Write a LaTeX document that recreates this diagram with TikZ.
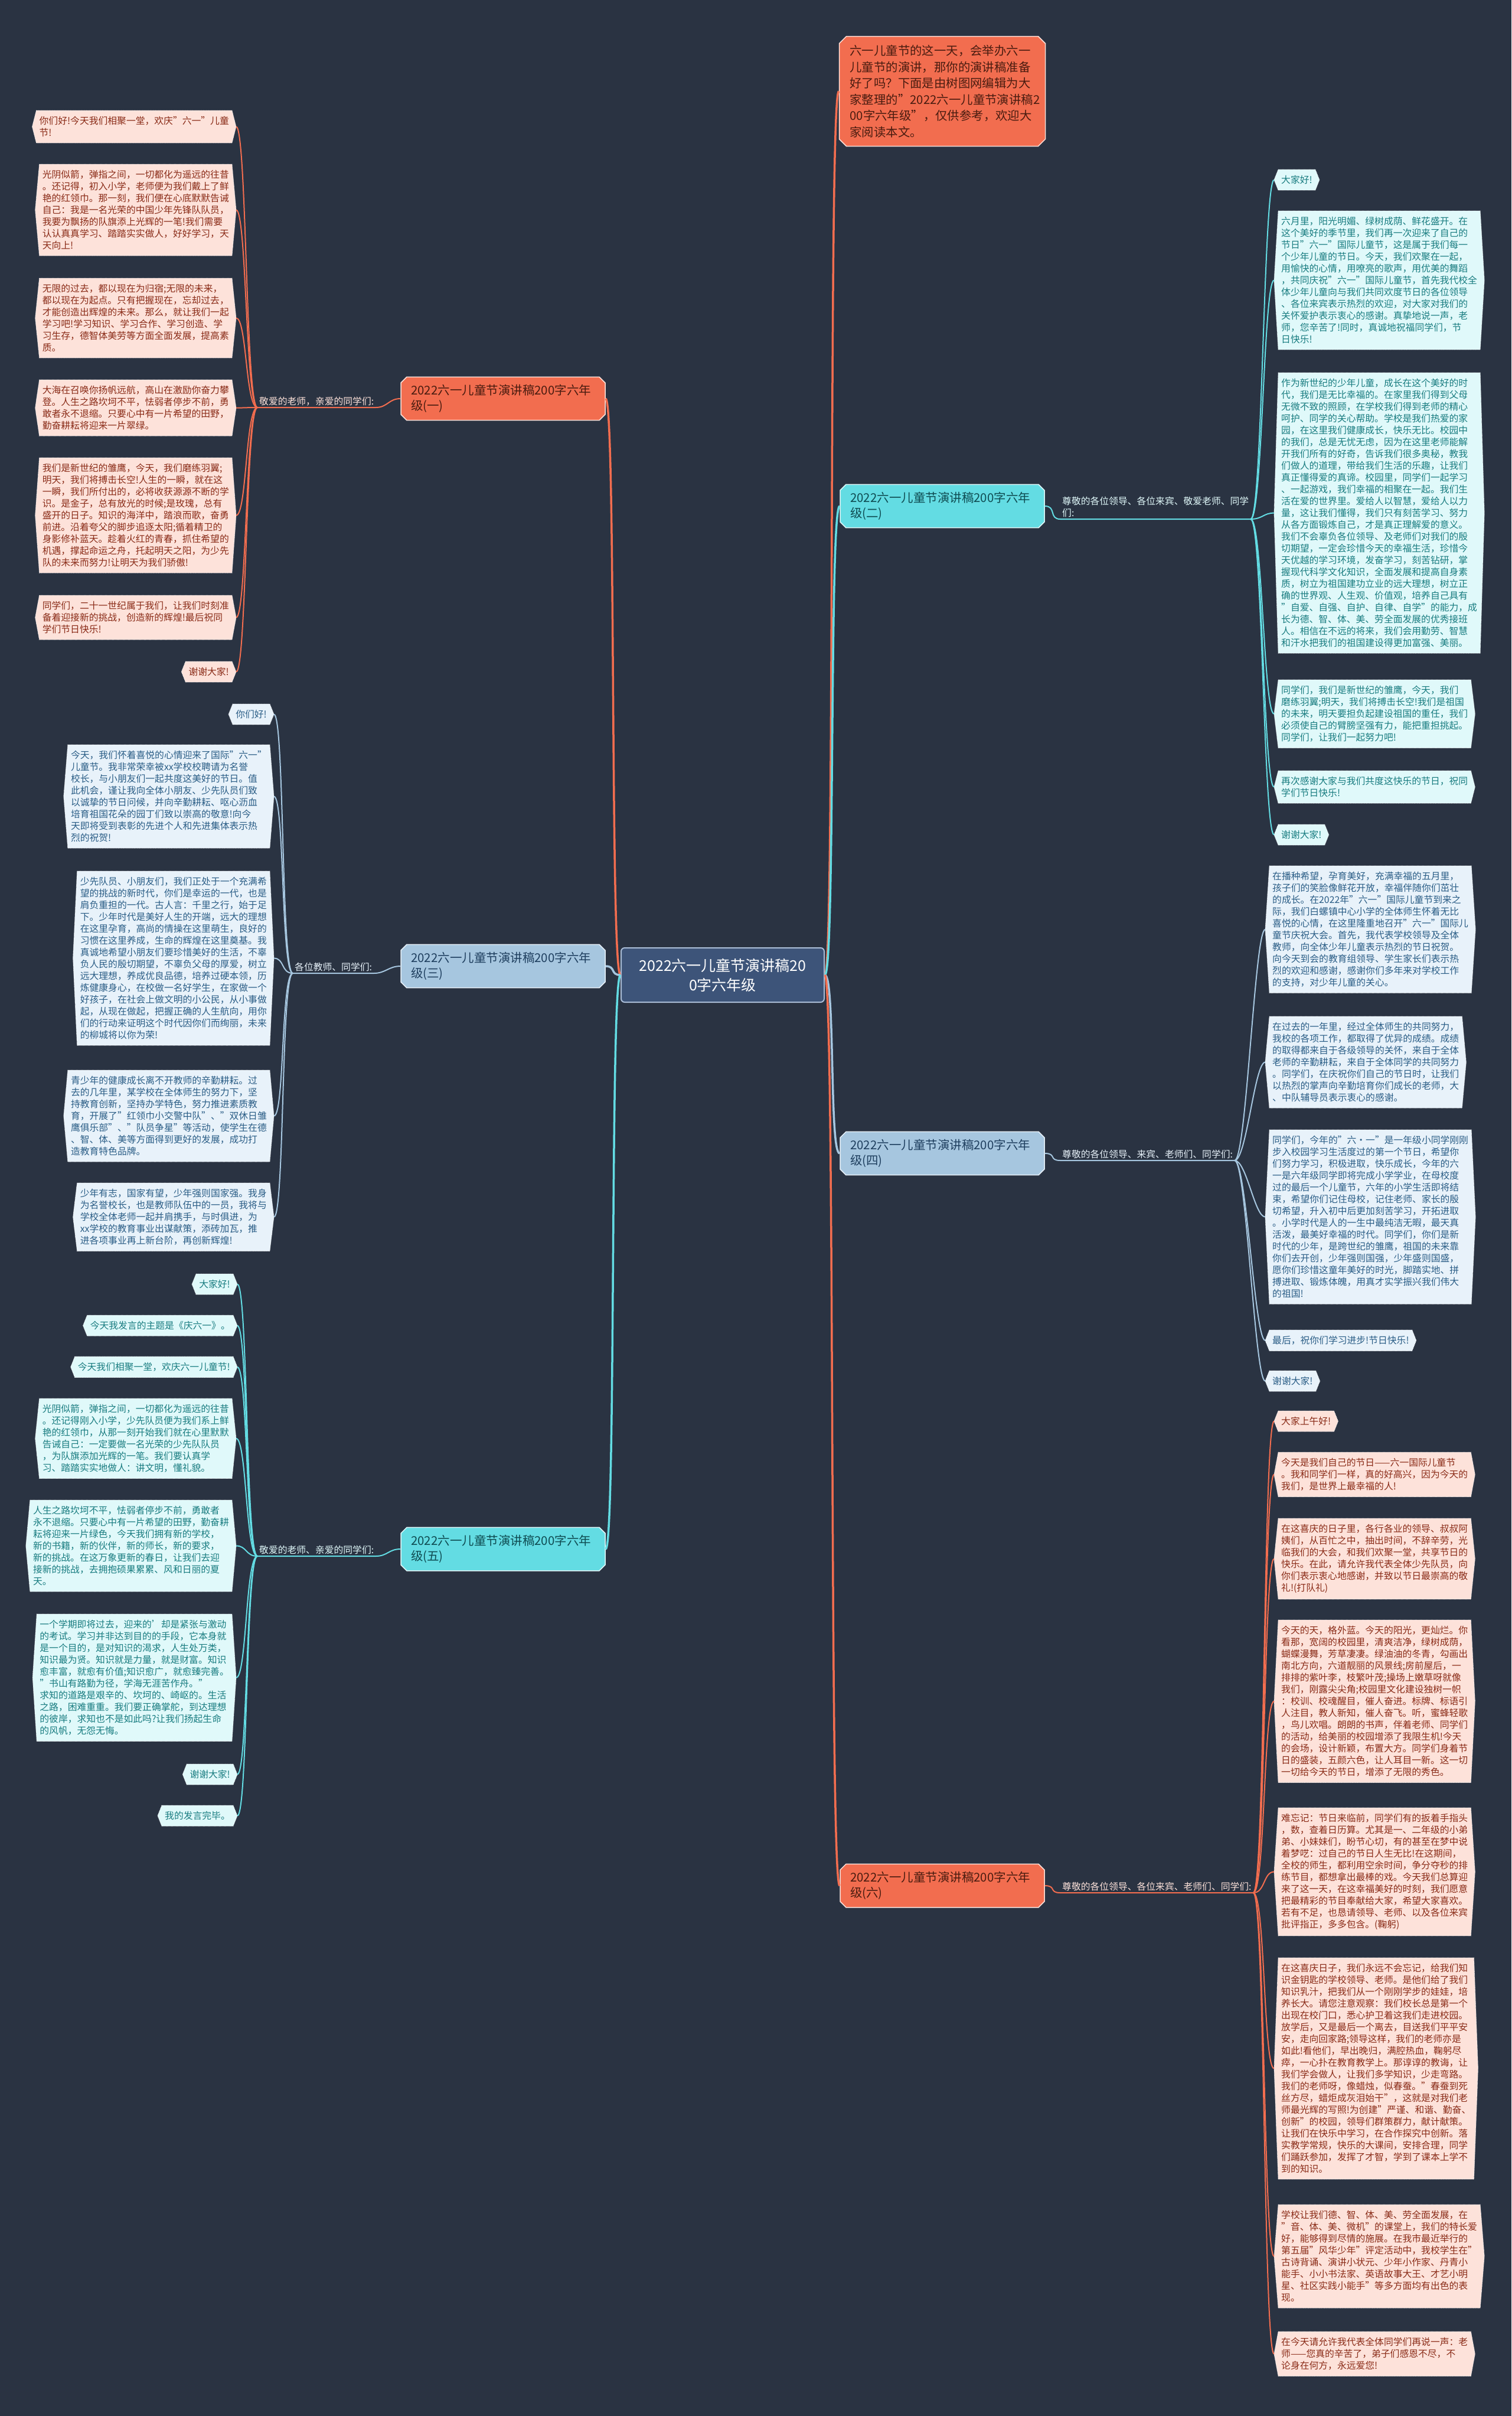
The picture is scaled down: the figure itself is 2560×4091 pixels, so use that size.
\documentclass[tikz,border=0pt]{standalone}
\usepackage{fontspec}
\setmainfont{Noto Sans CJK SC}
\usetikzlibrary{backgrounds,shapes.misc}
\definecolor{bgc}{HTML}{2A3342}
\definecolor{orA}{HTML}{F26D4F}
\definecolor{orL}{HTML}{FDE2DA}
\definecolor{orT}{HTML}{8A2B17}
\definecolor{orD}{HTML}{4A1C10}
\definecolor{blA}{HTML}{A6C6DF}
\definecolor{blL}{HTML}{E8F2FA}
\definecolor{blT}{HTML}{2A5D86}
\definecolor{blD}{HTML}{1F3F5F}
\definecolor{cyA}{HTML}{63DCE3}
\definecolor{cyL}{HTML}{E0F9FA}
\definecolor{cyT}{HTML}{187C80}
\definecolor{cyD}{HTML}{0F4C52}
\definecolor{ctrc}{HTML}{3D5479}
\definecolor{ctrl}{HTML}{A9BCD6}
\newcommand\leaffnt{\fontsize{15.8pt}{20pt}\selectfont}
\newcommand\brfnt{\fontsize{20.5pt}{26pt}\selectfont}
\newcommand\ctrfnt{\fontsize{25pt}{33pt}\selectfont}
\newcommand\introfnt{\fontsize{20.4pt}{27.5pt}\selectfont}
\tikzset{
  leaf/.style={inner xsep=5pt, inner ysep=10pt, align=left, font=\leaffnt},
  lo/.style={leaf, text=orT, anchor=north west},
  lb/.style={leaf, text=blT},
  lc/.style={leaf, text=cyT},
  branch/.style={chamfered rectangle, chamfered rectangle xsep=5pt, chamfered rectangle ysep=5pt,
    text width=312pt, align=left, inner xsep=12pt, inner ysep=8pt, minimum height=70pt,
    font=\brfnt, line width=1.5pt},
  bo/.style={branch, fill=orA, draw=orL, text=orD},
  bb/.style={branch, fill=blA, draw=blL, text=blD},
  bc/.style={branch, fill=cyA, draw=cyL, text=cyD},
  lab/.style={font=\leaffnt, inner xsep=3pt, inner ysep=3pt, align=left},
  mainc/.style={line width=3.5pt},
  con/.style={line width=2pt},
  hexo/.style={fill=orL, draw=white, densely dotted, line width=0.8pt},
  hexb/.style={fill=blL, draw=white, densely dotted, line width=0.8pt},
  hexc/.style={fill=cyL, draw=white, densely dotted, line width=0.8pt}
}
\begin{document}
\begin{tikzpicture}[x=1pt,y=-1pt]
\useasboundingbox (0,0) rectangle (2560,4091);

% centre
\node[rounded corners=6pt, fill=ctrc, draw=ctrl, line width=2pt, minimum width=344pt, minimum height=92pt,
  align=center, font=\ctrfnt, text=white] (ctr) at (1224,1651) {2022六一儿童节演讲稿20\\0字六年级};

% intro
\node[chamfered rectangle, chamfered rectangle xsep=6pt, chamfered rectangle ysep=6pt,
  fill=orA, draw=orL, line width=1.5pt, text width=313pt, inner xsep=12pt, inner ysep=8pt,
  minimum height=186pt, align=left, font=\introfnt, text=orD, anchor=north west] (intro) at (1427,67)
  {六一儿童节的这一天，会举办六一\\儿童节的演讲，那你的演讲稿准备\\好了吗？下面是由树图网编辑为大\\家整理的"2022六一儿童节演讲稿2\\00字六年级"，仅供参考，欢迎大\\家阅读本文。};

% branches
\node[bo] (b1) at (852,675) {2022六一儿童节演讲稿200字六年\\级(一)};
\node[bb] (b3) at (852,1636) {2022六一儿童节演讲稿200字六年\\级(三)};
\node[bc] (b5) at (852,2623) {2022六一儿童节演讲稿200字六年\\级(五)};
\node[bc] (b2) at (1596,857) {2022六一儿童节演讲稿200字六年\\级(二)};
\node[bb] (b4) at (1596,1953) {2022六一儿童节演讲稿200字六年\\级(四)};
\node[bo] (b6) at (1596,3193) {2022六一儿童节演讲稿200字六年\\级(六)};

% labels
\node[lab, text=orL, anchor=south west] (l1) at (436,690) {敬爱的老师，亲爱的同学们:};
\node[lab, text=blL, anchor=south west] (l3) at (496,1648) {各位教师、同学们:};
\node[lab, text=cyL, anchor=south west] (l5) at (436,2635) {敬爱的老师、亲爱的同学们:};
\node[lab, text=cyL, anchor=south west] (l2) at (1796,879) {尊敬的各位领导、各位来宾、敬爱老师、同学\\们:};
\node[lab, text=blL, anchor=south west] (l4) at (1796,1965) {尊敬的各位领导、来宾、老师们、同学们:};
\node[lab, text=orL, anchor=south west] (l6) at (1796,3205) {尊敬的各位领导、各位来宾、老师们、同学们:};

% (一) leaves
\node[leaf, text=orT, anchor=north east] (a1) at (393,187) {你们好!今天我们相聚一堂，欢庆"六一"儿童\\节!};
\node[leaf, text=orT, anchor=north east] (a2) at (393,278) {光阴似箭，弹指之间，一切都化为遥远的往昔\\。还记得，初入小学，老师便为我们戴上了鲜\\艳的红领巾。那一刻，我们便在心底默默告诫\\自己：我是一名光荣的中国少年先锋队队员，\\我要为飘扬的队旗添上光辉的一笔!我们需要\\认认真真学习、踏踏实实做人，好好学习，天\\天向上!};
\node[leaf, text=orT, anchor=north east] (a3) at (393,471) {无限的过去，都以现在为归宿;无限的未来，\\都以现在为起点。只有把握现在，忘却过去，\\才能创造出辉煌的未来。那么，就让我们一起\\学习吧!学习知识、学习合作、学习创造、学\\习生存，德智体美劳等方面全面发展，提高素\\质。};
\node[leaf, text=orT, anchor=north east] (a4) at (393,643) {大海在召唤你扬帆远航，高山在激励你奋力攀\\登。人生之路坎坷不平，怯弱者停步不前，勇\\敢者永不退缩。只要心中有一片希望的田野，\\勤奋耕耘将迎来一片翠绿。};
\node[leaf, text=orT, anchor=north east] (a5) at (393,775) {我们是新世纪的雏鹰，今天，我们磨练羽翼;\\明天，我们将搏击长空!人生的一瞬，就在这\\一瞬，我们所付出的，必将收获源源不断的学\\识。是金子，总有放光的时候;是玫瑰，总有\\盛开的日子。知识的海洋中，踏浪而歌，奋勇\\前进。沿着夸父的脚步追逐太阳;循着精卫的\\身影修补蓝天。趁着火红的青春，抓住希望的\\机遇，撑起命运之舟，托起明天之阳，为少先\\队的未来而努力!让明天为我们骄傲!};
\node[leaf, text=orT, anchor=north east] (a6) at (393,1008) {同学们，二十一世纪属于我们，让我们时刻准\\备着迎接新的挑战，创造新的辉煌!最后祝同\\学们节日快乐!};
\node[leaf, text=orT, anchor=north east] (a7) at (393,1120) {谢谢大家!};

% (三) leaves
\node[lb, anchor=north east] (m1) at (457,1192) {你们好!};
\node[lb, anchor=north east] (m2) at (457,1261) {今天，我们怀着喜悦的心情迎来了国际"六一"\\儿童节。我非常荣幸被xx学校校聘请为名誉\\校长，与小朋友们一起共度这美好的节日。值\\此机会，谨让我向全体小朋友、少先队员们致\\以诚挚的节日问候，并向辛勤耕耘、呕心沥血\\培育祖国花朵的园丁们致以崇高的敬意!向今\\天即将受到表彰的先进个人和先进集体表示热\\烈的祝贺!};
\node[lb, anchor=north east] (m3) at (457,1475) {少先队员、小朋友们，我们正处于一个充满希\\望的挑战的新时代，你们是幸运的一代，也是\\肩负重担的一代。古人言：千里之行，始于足\\下。少年时代是美好人生的开端，远大的理想\\在这里孕育，高尚的情操在这里萌生，良好的\\习惯在这里养成，生命的辉煌在这里奠基。我\\真诚地希望小朋友们要珍惜美好的生活，不辜\\负人民的殷切期望，不辜负父母的厚爱，树立\\远大理想，养成优良品德，培养过硬本领，历\\炼健康身心，在校做一名好学生，在家做一个\\好孩子，在社会上做文明的小公民，从小事做\\起，从现在做起，把握正确的人生航向，用你\\们的行动来证明这个时代因你们而绚丽，未来\\的柳城将以你为荣!};
\node[lb, anchor=north east] (m4) at (457,1812) {青少年的健康成长离不开教师的辛勤耕耘。过\\去的几年里，某学校在全体师生的努力下，坚\\持教育创新，坚持办学特色，努力推进素质教\\育，开展了"红领巾小交警中队"、"双休日雏\\鹰俱乐部"、"队员争星"等活动，使学生在德\\、智、体、美等方面得到更好的发展，成功打\\造教育特色品牌。};
\node[lb, anchor=north east] (m5) at (457,2003) {少年有志，国家有望，少年强则国家强。我身\\为名誉校长，也是教师队伍中的一员，我将与\\学校全体老师一起并肩携手，与时俱进，为\\xx学校的教育事业出谋献策，添砖加瓦，推\\进各项事业再上新台阶，再创新辉煌!};

% (五) leaves
\node[lc, anchor=north east] (n1) at (395,2157) {大家好!};
\node[lc, anchor=north east] (n2) at (395,2227) {今天我发言的主题是《庆六一》。};
\node[lc, anchor=north east] (n3) at (395,2297) {今天我们相聚一堂，欢庆六一儿童节!};
\node[lc, anchor=north east] (n4) at (393,2368) {光阴似箭，弹指之间，一切都化为遥远的往昔\\。还记得刚入小学，少先队员便为我们系上鲜\\艳的红领巾，从那一刻开始我们就在心里默默\\告诫自己：一定要做一名光荣的少先队队员\\，为队旗添加光辉的一笔。我们要认真学\\习、踏踏实实地做人：讲文明，懂礼貌。};
\node[lc, anchor=north east] (n5) at (393,2540) {人生之路坎坷不平，怯弱者停步不前，勇敢者\\永不退缩。只要心中有一片希望的田野，勤奋耕\\耘将迎来一片绿色，今天我们拥有新的学校，\\新的书籍，新的伙伴，新的师长，新的要求，\\新的挑战。在这万象更新的春日，让我们去迎\\接新的挑战，去拥抱硕果累累、风和日丽的夏\\天。};
\node[lc, anchor=north east] (n6) at (393,2733) {一个学期即将过去，迎来的'却是紧张与激动\\的考试。学习并非达到目的的手段，它本身就\\是一个目的，是对知识的渴求，人生处万类，\\知识最为贤。知识就是力量，就是财富。知识\\愈丰富，就愈有价值;知识愈广，就愈臻完善。\\"书山有路勤为径，学海无涯苦作舟。"\\求知的道路是艰辛的、坎坷的、崎岖的。生活\\之路，困难重重。我们要正确掌舵，到达理想\\的彼岸，求知也不是如此吗?让我们扬起生命\\的风帆，无怨无悔。};
\node[lc, anchor=north east] (n7) at (395,2987) {谢谢大家!};
\node[lc, anchor=north east] (n8) at (395,3057) {我的发言完毕。};

% (二) leaves
\node[lc, anchor=north west] (r1) at (2165,287) {大家好!};
\node[lc, anchor=north west] (r2) at (2165,357) {六月里，阳光明媚、绿树成荫、鲜花盛开。在\\这个美好的季节里，我们再一次迎来了自己的\\节日"六一"国际儿童节，这是属于我们每一\\个少年儿童的节日。今天，我们欢聚在一起，\\用愉快的心情，用嘹亮的歌声，用优美的舞蹈\\，共同庆祝"六一"国际儿童节，首先我代校全\\体少年儿童向与我们共同欢度节日的各位领导\\、各位来宾表示热烈的欢迎，对大家对我们的\\关怀爱护表示衷心的感谢。真挚地说一声，老\\师，您辛苦了!同时，真诚地祝福同学们，节\\日快乐!};
\node[lc, anchor=north west] (r3) at (2165,631) {作为新世纪的少年儿童，成长在这个美好的时\\代，我们是无比幸福的。在家里我们得到父母\\无微不致的照顾，在学校我们得到老师的精心\\呵护、同学的关心帮助。学校是我们热爱的家\\园，在这里我们健康成长，快乐无比。校园中\\的我们，总是无忧无虑，因为在这里老师能解\\开我们所有的好奇，告诉我们很多奥秘，教我\\们做人的道理，带给我们生活的乐趣，让我们\\真正懂得爱的真谛。校园里，同学们一起学习\\、一起游戏，我们幸福的相聚在一起。我们生\\活在爱的世界里。爱给人以智慧，爱给人以力\\量，这让我们懂得，我们只有刻苦学习、努力\\从各方面锻炼自己，才是真正理解爱的意义。\\我们不会辜负各位领导、及老师们对我们的殷\\切期望，一定会珍惜今天的幸福生活，珍惜今\\天优越的学习环境，发奋学习，刻苦钻研，掌\\握现代科学文化知识，全面发展和提高自身素\\质，树立为祖国建功立业的远大理想，树立正\\确的世界观、人生观、价值观，培养自己具有\\"自爱、自强、自护、自律、自学"的能力，成\\长为德、智、体、美、劳全面发展的优秀接班\\人。相信在不远的将来，我们会用勤劳、智慧\\和汗水把我们的祖国建设得更加富强、美丽。};
\node[lc, anchor=north west] (r4) at (2165,1151) {同学们，我们是新世纪的雏鹰，今天，我们\\磨练羽翼;明天，我们将搏击长空!我们是祖国\\的未来，明天要担负起建设祖国的重任，我们\\必须使自己的臂膀坚强有力，能把重担挑起。\\同学们，让我们一起努力吧!};
\node[lc, anchor=north west] (r5) at (2165,1305) {再次感谢大家与我们共度这快乐的节日，祝同\\学们节日快乐!};
\node[lc, anchor=north west] (r6) at (2165,1396) {谢谢大家!};

% (四) leaves
\node[lb, anchor=north west] (s1) at (2150,1466) {在播种希望，孕育美好，充满幸福的五月里，\\孩子们的笑脸像鲜花开放，幸福伴随你们茁壮\\的成长。在2022年"六一"国际儿童节到来之\\际，我们白螺镇中心小学的全体师生怀着无比\\喜悦的心情，在这里隆重地召开"六一"国际儿\\童节庆祝大会。首先，我代表学校领导及全体\\教师，向全体少年儿童表示热烈的节日祝贺。\\向今天到会的教育组领导、学生家长们表示热\\烈的欢迎和感谢，感谢你们多年来对学校工作\\的支持，对少年儿童的关心。};
\node[lb, anchor=north west] (s2) at (2150,1721) {在过去的一年里，经过全体师生的共同努力，\\我校的各项工作，都取得了优异的成绩。成绩\\的取得都来自于各级领导的关怀，来自于全体\\老师的辛勤耕耘，来自于全体同学的共同努力\\。同学们，在庆祝你们自己的节日时，让我们\\以热烈的掌声向辛勤培育你们成长的老师，大\\、中队辅导员表示衷心的感谢。};
\node[lb, anchor=north west] (s3) at (2150,1913) {同学们，今年的"六·一"是一年级小同学刚刚\\步入校园学习生活度过的第一个节日，希望你\\们努力学习，积极进取，快乐成长，今年的六\\一是六年级同学即将完成小学学业，在母校度\\过的最后一个儿童节，六年的小学生活即将结\\束，希望你们记住母校，记住老师、家长的殷\\切希望，升入初中后更加刻苦学习，开拓进取\\。小学时代是人的一生中最纯洁无暇，最天真\\活泼，最美好幸福的时代。同学们，你们是新\\时代的少年，是跨世纪的雏鹰，祖国的未来靠\\你们去开创，少年强则国强，少年盛则国盛，\\愿你们珍惜这童年美好的时光，脚踏实地、拼\\搏进取、锻炼体魄，用真才实学振兴我们伟大\\的祖国!};
\node[lb, anchor=north west] (s4) at (2150,2252) {最后，祝你们学习进步!节日快乐!};
\node[lb, anchor=north west] (s5) at (2150,2321) {谢谢大家!};

% (六) leaves
\node[lo] (t1) at (2165,2389) {大家上午好!};
\node[lo] (t2) at (2165,2459) {今天是我们自己的节日——六一国际儿童节\\。我和同学们一样，真的好高兴，因为今天的\\我们，是世界上最幸福的人!};
\node[lo] (t3) at (2165,2571) {在这喜庆的日子里，各行各业的领导、叔叔阿\\姨们，从百忙之中，抽出时间，不辞辛劳，光\\临我们的大会，和我们欢聚一堂，共享节日的\\快乐。在此，请允许我代表全体少先队员，向\\你们表示衷心地感谢，并致以节日最崇高的敬\\礼!(打队礼)};
\node[lo] (t4) at (2165,2743) {今天的天，格外蓝。今天的阳光，更灿烂。你\\看那，宽阔的校园里，清爽洁净，绿树成荫，\\蝴蝶漫舞，芳草凄凄。绿油油的冬青，勾画出\\南北方向，六道靓丽的风景线;房前屋后，一\\排排的紫叶李，枝繁叶茂;操场上嫩草呀就像\\我们，刚露尖尖角;校园里文化建设独树一帜\\：校训、校魂醒目，催人奋进。标牌、标语引\\人注目，教人新知，催人奋飞。听，蜜蜂轻歌\\，鸟儿欢唱。朗朗的书声，伴着老师、同学们\\的活动，给美丽的校园增添了我限生机!今天\\的会场，设计新颖，布置大方。同学们身着节\\日的盛装，五颜六色，让人耳目一新。这一切\\一切给今天的节日，增添了无限的秀色。};
\node[lo] (t5) at (2165,3061) {难忘记：节日来临前，同学们有的扳着手指头\\，数，查着日历算。尤其是一、二年级的小弟\\弟、小妹妹们，盼节心切，有的甚至在梦中说\\着梦呓：过自己的节日人生无比!在这期间，\\全校的师生，都利用空余时间，争分夺秒的排\\练节目，都想拿出最棒的戏。今天我们总算迎\\来了这一天，在这幸福美好的时刻，我们愿意\\把最精彩的节目奉献给大家，希望大家喜欢。\\若有不足，也恳请领导、老师、以及各位来宾\\批评指正，多多包含。(鞠躬)};
\node[lo] (t6) at (2165,3315) {在这喜庆日子，我们永远不会忘记，给我们知\\识金钥匙的学校领导、老师。是他们给了我们\\知识乳汁，把我们从一个刚刚学步的娃娃，培\\养长大。请您注意观察：我们校长总是第一个\\出现在校门口，悉心护卫着这我们走进校园。\\放学后，又是最后一个离去，目送我们平平安\\安，走向回家路;领导这样，我们的老师亦是\\如此!看他们，早出晚归，满腔热血，鞠躬尽\\瘁，一心扑在教育教学上。那谆谆的教诲，让\\我们学会做人，让我们多学知识，少走弯路。\\我们的老师呀，像蜡烛，似春蚕。"春蚕到死\\丝方尽，蜡炬成灰泪始干"，这就是对我们老\\师最光辉的写照!为创建"严谨、和谐、勤奋、\\创新"的校园，领导们群策群力，献计献策。\\让我们在快乐中学习，在合作探究中创新。落\\实教学常规，快乐的大课间，安排合理，同学\\们踊跃参加，发挥了才智，学到了课本上学不\\到的知识。};
\node[lo] (t7) at (2165,3733) {学校让我们德、智、体、美、劳全面发展，在\\"音、体、美、微机"的课堂上，我们的特长爱\\好，能够得到尽情的施展。在我市最近举行的\\第五届"风华少年"评定活动中，我校学生在"\\古诗背诵、演讲小状元、少年小作家、丹青小\\能手、小小书法家、英语故事大王、才艺小明\\星、社区实践小能手"等多方面均有出色的表\\现。};
\node[lo] (t8) at (2165,3948) {在今天请允许我代表全体同学们再说一声：老\\师——您真的辛苦了，弟子们感恩不尽，不\\论身在何方，永远爱您!};

% centre connectors
\draw[mainc, orA] (ctr.east) .. controls +(18,0) and +(-18,0) .. (intro.west);
\draw[mainc, cyA] (ctr.east) .. controls +(18,0) and +(-18,0) .. (b2.west);
\draw[mainc, blA] (ctr.east) .. controls +(18,0) and +(-18,0) .. (b4.west);
\draw[mainc, orA] (ctr.east) .. controls +(18,0) and +(-18,0) .. (b6.west);
\draw[mainc, orA] (ctr.west) .. controls +(-18,0) and +(18,0) .. (b1.east);
\draw[mainc, blA] (ctr.west) .. controls +(-18,0) and +(18,0) .. (b3.east);
\draw[mainc, cyA] (ctr.west) .. controls +(-18,0) and +(18,0) .. (b5.east);

% branch to label
\draw[con, orA] (b1.west) .. controls +(-20,0) and +(20,0) .. (l1.south east) -- (l1.south west);
\draw[con, blA] (b3.west) .. controls +(-20,0) and +(20,0) .. (l3.south east) -- (l3.south west);
\draw[con, cyA] (b5.west) .. controls +(-20,0) and +(20,0) .. (l5.south east) -- (l5.south west);
\draw[con, cyA] (b2.east) .. controls +(20,0) and +(-20,0) .. (l2.south west) -- (l2.south east);
\draw[con, blA] (b4.east) .. controls +(20,0) and +(-20,0) .. (l4.south west) -- (l4.south east);
\draw[con, orA] (b6.east) .. controls +(20,0) and +(-20,0) .. (l6.south west) -- (l6.south east);

% fans
\foreach \nm in {a1,a2,a3,a4,a5,a6,a7}
  \draw[con, orA] (l1.south west) .. controls +(-20,0) and +(18,0) .. ([xshift=7pt]\nm.east);
\foreach \nm in {m1,m2,m3,m4,m5}
  \draw[con, blA] (l3.south west) .. controls +(-20,0) and +(18,0) .. ([xshift=7pt]\nm.east);
\foreach \nm in {n1,n2,n3,n4,n5,n6,n7,n8}
  \draw[con, cyA] (l5.south west) .. controls +(-20,0) and +(18,0) .. ([xshift=7pt]\nm.east);
\foreach \nm in {r1,r2,r3,r4,r5,r6}
  \draw[con, cyA] (l2.south east) .. controls +(20,0) and +(-18,0) .. ([xshift=-7pt]\nm.west);
\foreach \nm in {s1,s2,s3,s4,s5}
  \draw[con, blA] (l4.south east) .. controls +(20,0) and +(-18,0) .. ([xshift=-7pt]\nm.west);
\foreach \nm in {t1,t2,t3,t4,t5,t6,t7,t8}
  \draw[con, orA] (l6.south east) .. controls +(20,0) and +(-18,0) .. ([xshift=-7pt]\nm.west);

% backgrounds
\begin{scope}[on background layer]
\fill[bgc] (0,0) rectangle (2560,4091);
\foreach \nm in {a1,a2,a3,a4,a5,a6,a7,t1,t2,t3,t4,t5,t6,t7,t8}
  \filldraw[hexo] (\nm.north west) -- (\nm.north east) -- ([xshift=7pt]\nm.east) -- (\nm.south east) -- (\nm.south west) -- ([xshift=-7pt]\nm.west) -- cycle;
\foreach \nm in {m1,m2,m3,m4,m5,s1,s2,s3,s4,s5}
  \filldraw[hexb] (\nm.north west) -- (\nm.north east) -- ([xshift=7pt]\nm.east) -- (\nm.south east) -- (\nm.south west) -- ([xshift=-7pt]\nm.west) -- cycle;
\foreach \nm in {n1,n2,n3,n4,n5,n6,n7,n8,r1,r2,r3,r4,r5,r6}
  \filldraw[hexc] (\nm.north west) -- (\nm.north east) -- ([xshift=7pt]\nm.east) -- (\nm.south east) -- (\nm.south west) -- ([xshift=-7pt]\nm.west) -- cycle;
\end{scope}
\end{tikzpicture}
\end{document}
